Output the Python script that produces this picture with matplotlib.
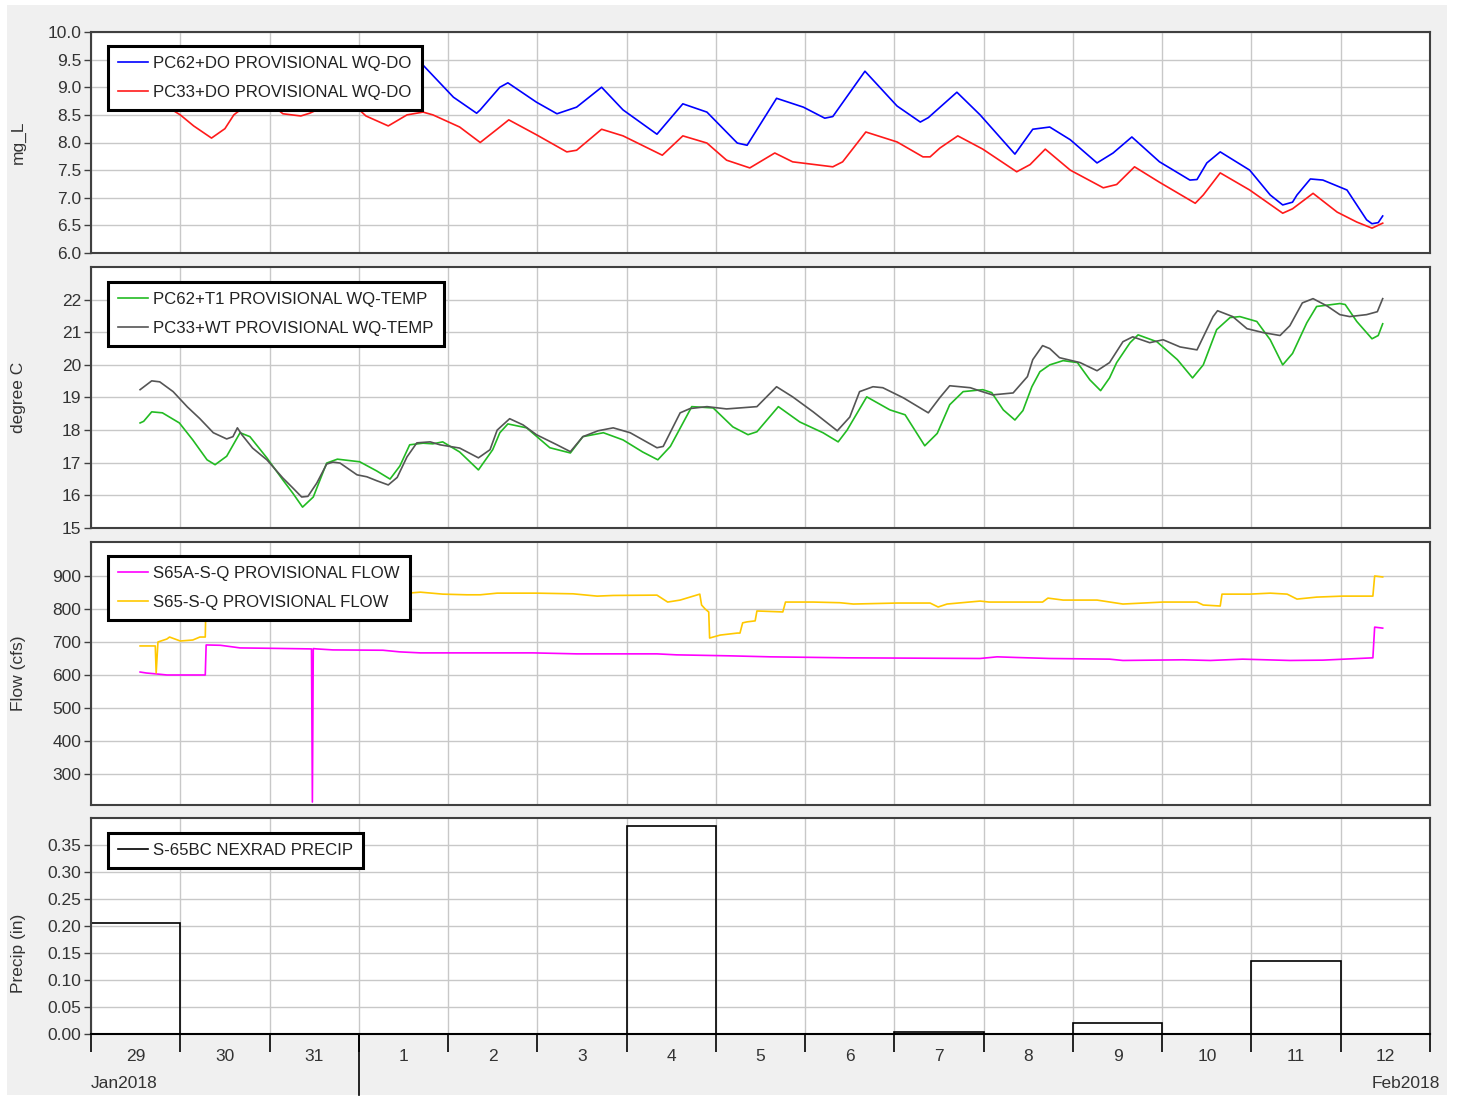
import matplotlib
matplotlib.use("Agg")
import matplotlib.pyplot as plt
import matplotlib.transforms as mtransforms
from matplotlib.patches import Rectangle
from matplotlib.lines import Line2D
import numpy as np

plt.rcParams['font.family'] = ['Liberation Sans', 'DejaVu Sans']

# time axis: days after 29 Jan 2018 00:00
day_labels = ['29', '30', '31', '1', '2', '3', '4', '5', '6', '7', '8', '9', '10', '11', '12']

# --- dissolved oxygen (mg_L)
do62_t = [0.53, 0.75, 1.0, 1.33, 1.55, 1.67, 1.85, 2.1, 2.38, 2.6, 2.75, 3.0, 3.33, 3.5, 3.62,
          3.72, 4.06, 4.32, 4.36, 4.58, 4.67, 4.99, 5.22, 5.44, 5.72, 5.96, 6.34, 6.63, 6.90,
          7.24, 7.35, 7.68, 7.98, 8.22, 8.31, 8.67, 9.03, 9.29, 9.38, 9.70, 9.96, 10.35, 10.55,
          10.74, 10.97, 11.27, 11.45, 11.66, 11.97, 12.31, 12.39, 12.50, 12.65, 12.98, 13.21,
          13.35, 13.46, 13.51, 13.66, 13.80, 14.07, 14.29, 14.35, 14.42, 14.47]
do62_v = [9.15, 9.3, 9.1, 8.95, 9.5, 9.75, 9.55, 9.2, 8.95, 9.25, 9.45, 9.3, 9.0, 9.3, 9.5,
          9.4, 8.82, 8.53, 8.59, 9.0, 9.08, 8.73, 8.52, 8.64, 9.0, 8.59, 8.15, 8.7, 8.55,
          7.99, 7.95, 8.8, 8.64, 8.44, 8.47, 9.29, 8.66, 8.37, 8.45, 8.91, 8.5, 7.79, 8.24,
          8.28, 8.05, 7.63, 7.81, 8.1, 7.65, 7.32, 7.33, 7.63, 7.83, 7.5, 7.05,
          6.87, 6.92, 7.05, 7.34, 7.32, 7.14, 6.6, 6.53, 6.55, 6.67]
do33_t = [0.53, 0.85, 1.0, 1.15, 1.35, 1.50, 1.6, 1.8, 2.05, 2.15, 2.35, 2.45, 2.75, 3.0, 3.08,
          3.33, 3.54, 3.72, 3.83, 4.13, 4.36, 4.58, 4.68, 4.99, 5.33, 5.44, 5.72, 5.96, 6.40,
          6.63, 6.90, 7.12, 7.38, 7.66, 7.86, 8.31, 8.42, 8.68, 9.03, 9.32, 9.40, 9.51, 9.71,
          9.99, 10.37, 10.52, 10.69, 10.97, 11.34, 11.49, 11.69, 11.97, 12.37, 12.46, 12.65,
          12.98, 13.35, 13.46, 13.69, 13.96, 14.18, 14.35, 14.47]
do33_v = [8.85, 8.65, 8.5, 8.3, 8.08, 8.25, 8.5, 8.75, 8.65, 8.52, 8.48, 8.53, 8.75, 8.6, 8.48,
          8.3, 8.5, 8.55, 8.5, 8.28, 8.0, 8.28, 8.41, 8.14, 7.83, 7.86, 8.24, 8.12, 7.77,
          8.12, 7.99, 7.68, 7.54, 7.81, 7.65, 7.56, 7.65, 8.19, 8.01, 7.74, 7.74, 7.9, 8.12,
          7.88, 7.47, 7.6, 7.88, 7.5, 7.18, 7.24, 7.56, 7.28, 6.9, 7.05, 7.45,
          7.14, 6.72, 6.8, 7.08, 6.74, 6.56, 6.45, 6.54]

# --- water temperature (degree C)
t62_t = [0.55, 0.59, 0.68, 0.80, 0.99, 1.14, 1.30, 1.39, 1.52, 1.67, 1.78, 1.97, 2.15, 2.26,
         2.37, 2.49, 2.64, 2.76, 3.01, 3.20, 3.35, 3.46, 3.57, 3.72, 3.83, 3.94, 4.13, 4.34,
         4.50, 4.58, 4.67, 4.88, 5.14, 5.37, 5.51, 5.74, 5.96, 6.18, 6.35, 6.49, 6.73, 6.97,
         7.19, 7.36, 7.46, 7.70, 7.94, 8.20, 8.37, 8.47, 8.69, 8.95, 9.12, 9.34, 9.48, 9.62,
         9.77, 9.99, 10.09, 10.22, 10.35, 10.44, 10.54, 10.63, 10.74, 10.89, 11.05, 11.19,
         11.31, 11.41, 11.49, 11.64, 11.73, 11.94, 12.17, 12.34, 12.46, 12.61, 12.76, 12.87,
         13.06, 13.21, 13.35, 13.46, 13.62, 13.73, 13.99, 14.05, 14.18, 14.35, 14.42, 14.47]
t62_v = [18.22, 18.27, 18.56, 18.53, 18.22, 17.7, 17.09, 16.94, 17.2, 17.92, 17.8, 17.15, 16.47, 16.07,
         15.64, 15.95, 16.99, 17.11, 17.03, 16.75, 16.5, 16.9, 17.55, 17.6, 17.58, 17.64, 17.33, 16.78,
         17.4, 17.92, 18.19, 18.07, 17.46, 17.3, 17.8, 17.92, 17.7, 17.33, 17.09, 17.5, 18.72, 18.68,
         18.1, 17.86, 17.95, 18.72, 18.25, 17.92, 17.64, 18.0, 19.02, 18.62, 18.47, 17.52, 17.9, 18.78,
         19.18, 19.24, 19.15, 18.62, 18.31, 18.6, 19.33, 19.79, 20.0, 20.13, 20.07, 19.54,
         19.21, 19.6, 20.07, 20.68, 20.92, 20.71, 20.16, 19.6, 20.0, 21.08, 21.45, 21.48,
         21.33, 20.77, 20.0, 20.35, 21.29, 21.79, 21.88, 21.85, 21.33, 20.8, 20.9, 21.26]
t33_t = [0.55, 0.68, 0.77, 0.92, 1.08, 1.22, 1.37, 1.52, 1.59, 1.64, 1.69, 1.81, 1.97, 2.15,
         2.26, 2.36, 2.43, 2.53, 2.64, 2.71, 2.79, 2.98, 3.09, 3.20, 3.33, 3.43, 3.54, 3.65,
         3.80, 3.91, 4.13, 4.34, 4.47, 4.55, 4.69, 4.84, 4.99, 5.22, 5.37, 5.51, 5.68, 5.85,
         6.04, 6.34, 6.41, 6.60, 6.71, 6.90, 7.12, 7.46, 7.68, 7.86, 8.09, 8.36, 8.50, 8.61,
         8.76, 8.87, 9.10, 9.38, 9.51, 9.62, 9.85, 9.96, 10.10, 10.33, 10.49, 10.55, 10.66,
         10.74, 10.85, 11.08, 11.27, 11.41, 11.56, 11.67, 11.86, 12.01, 12.20, 12.39, 12.57,
         12.62, 12.79, 12.95, 13.13, 13.32, 13.43, 13.57, 13.69, 13.85, 13.99, 14.10, 14.29,
         14.41, 14.47]
t33_v = [19.24, 19.51, 19.48, 19.18, 18.71, 18.35, 17.92, 17.73, 17.8, 18.07, 17.86, 17.45, 17.09, 16.53,
         16.23, 15.95, 15.97, 16.38, 16.96, 17.02, 16.99, 16.63, 16.57, 16.45, 16.32, 16.55, 17.18, 17.61,
         17.64, 17.55, 17.45, 17.15, 17.4, 18.0, 18.35, 18.16, 17.86, 17.55, 17.34, 17.8, 17.98, 18.07,
         17.92, 17.46, 17.5, 18.53, 18.66, 18.72, 18.65, 18.72, 19.33, 19.02, 18.56, 17.98, 18.4, 19.18,
         19.33, 19.3, 18.99, 18.53, 19.0, 19.36, 19.3, 19.2, 19.08, 19.14, 19.64, 20.16, 20.59,
         20.5, 20.22, 20.07, 19.82, 20.07, 20.71, 20.86, 20.68, 20.77, 20.55, 20.46, 21.48,
         21.66, 21.48, 21.11, 20.99, 20.9, 21.2, 21.9, 22.03, 21.8, 21.54, 21.48, 21.54,
         21.63, 22.03]

# --- flow (cfs)
q65a_t = [0.55, 0.62, 0.74, 0.85, 1.28, 1.29, 1.45, 1.59, 1.67, 1.97, 2.47, 2.48, 2.49, 2.53,
          2.71, 3.27, 3.46, 3.69, 4.58, 4.95, 5.44, 6.34, 6.56, 7.16, 7.61, 8.47, 9.96, 10.15,
          10.37, 10.74, 11.41, 11.56, 12.23, 12.54, 12.90, 13.43, 13.80, 14.36, 14.38, 14.47]
q65a_v = [609, 606, 603, 600, 600, 691, 690, 685, 682, 681, 679, 215, 680, 679,
          676, 675, 670, 667, 667, 667, 664, 664, 661, 658, 655, 652, 650, 655,
          653, 650, 648, 644, 646, 644, 648, 644, 645, 652, 745, 742]
q65_t = [0.55, 0.72, 0.73, 0.75, 0.85, 0.88, 1.00, 1.14, 1.22, 1.28, 1.29, 2.0, 3.0, 3.55,
         3.69, 3.94, 4.21, 4.36, 4.55, 4.73, 4.99, 5.40, 5.67, 5.85, 6.34, 6.46, 6.60, 6.82,
         6.84, 6.88, 6.92, 6.93, 7.05, 7.24, 7.27, 7.30, 7.35, 7.44, 7.46, 7.75, 7.78, 8.09,
         8.39, 8.54, 9.03, 9.40, 9.49, 9.59, 9.96, 10.06, 10.66, 10.72, 10.89, 11.27, 11.56,
         12.01, 12.39, 12.46, 12.65, 12.67, 12.98, 13.21, 13.40, 13.51, 13.73, 14.02, 14.36,
         14.38, 14.47]
q65_v = [688, 688, 606, 700, 709, 715, 703, 706, 715, 715, 850, 848, 846, 848,
         851, 845, 843, 843, 848, 848, 848, 846, 839, 841, 842, 821, 827, 845,
         812, 800, 791, 712, 721, 727, 727, 758, 761, 764, 794, 791, 821, 821,
         819, 815, 818, 818, 806, 815, 824, 821, 821, 833, 827, 827, 815,
         821, 821, 812, 809, 845, 845, 848, 845, 830, 836, 839, 839,
         900, 897]

# --- daily precipitation (in), one value per day
precip = [0.205, 0, 0, 0, 0, 0, 0.385, 0, 0, 0.003, 0, 0.02, 0, 0.135, 0]

W, H = 1458, 1097
fig = plt.figure(figsize=(W / 100, H / 100), dpi=100, facecolor='white')
fig.patches.append(Rectangle((7 / W, 1 - 1095 / H), 1440 / W, 1090 / H,
                             transform=fig.transFigure, facecolor='#f0f0f0',
                             edgecolor='none', zorder=-10))

def panel(top, bottom):
    return fig.add_axes([91 / W, 1 - bottom / H, 1339 / W, (bottom - top) / H])

ax1 = panel(32, 253)
ax2 = panel(267, 528)
ax3 = panel(542, 805)
ax4 = panel(818, 1034)

tc = '#333333'
fs = 12.5
lfs = 12.1
for ax in (ax1, ax2, ax3, ax4):
    ax.set_facecolor('white')
    ax.set_xlim(0, 15)
    ax.set_xticks(np.arange(0, 16))
    ax.grid(True, color='#c8c8c8', lw=1.0)
    ax.set_axisbelow(True)
    for s in ax.spines.values():
        s.set_color('#404040')
        s.set_linewidth(1.5)
    ax.tick_params(axis='y', direction='out', length=5, width=1, color='#404040',
                   labelsize=fs, labelcolor=tc, pad=2)
    ax.tick_params(axis='x', length=0, labelbottom=False)

def legend(ax, top_px, height_px, handles=None, labels=None):
    kw = dict(loc='upper left', bbox_to_anchor=(17 / 1339, 1 - top_px / height_px),
              borderaxespad=0, fontsize=lfs, frameon=True, fancybox=False,
              framealpha=1, handlelength=1.8, handletextpad=0.3,
              borderpad=0.6, labelspacing=0.82)
    if handles is None:
        leg = ax.legend(**kw)
    else:
        leg = ax.legend(handles, labels, **kw)
    leg.get_frame().set_edgecolor('black')
    leg.get_frame().set_linewidth(2.2)
    for t in leg.get_texts():
        t.set_color('#222222')
    return leg

# panel 1: DO
ax1.plot(do62_t, do62_v, color='#0000ff', lw=1.2, label='PC62+DO PROVISIONAL WQ-DO')
ax1.plot(do33_t, do33_v, color='#ff1a1a', lw=1.2, label='PC33+DO PROVISIONAL WQ-DO')
ax1.set_ylim(6.0, 10.0)
ax1.set_yticks(np.arange(6.0, 10.01, 0.5))
ax1.set_yticklabels([f'{v:.1f}' for v in np.arange(6.0, 10.01, 0.5)])
ax1.set_ylabel('mg_L', fontsize=fs, color=tc)
legend(ax1, 14, 221)

# panel 2: temperature
ax2.plot(t62_t, t62_v, color='#22bb22', lw=1.2, label='PC62+T1 PROVISIONAL WQ-TEMP')
ax2.plot(t33_t, t33_v, color='#555555', lw=1.2, label='PC33+WT PROVISIONAL WQ-TEMP')
ax2.set_ylim(15, 23)
ax2.set_yticks(np.arange(15, 23))
ax2.set_ylabel('degree C', fontsize=fs, color=tc)
legend(ax2, 15, 261)

# panel 3: flow
ax3.plot(q65a_t, q65a_v, color='#ff00ff', lw=1.2, label='S65A-S-Q PROVISIONAL FLOW')
ax3.plot(q65_t, q65_v, color='#ffc800', lw=1.2, label='S65-S-Q PROVISIONAL FLOW')
ax3.set_ylim(206, 1003)
ax3.set_yticks(np.arange(300, 901, 100))
ax3.set_ylabel('Flow (cfs)', fontsize=fs, color=tc)
legend(ax3, 14, 263)

# panel 4: precip
days = np.arange(len(precip))
ax4.bar(days, precip, width=1.0, align='edge', facecolor='none', edgecolor='black', lw=1.2)
ax4.set_ylim(0, 0.40)
ax4.set_yticks(np.arange(0, 0.351, 0.05))
ax4.set_yticklabels([f'{v:.2f}' for v in np.arange(0, 0.351, 0.05)])
ax4.set_ylabel('Precip (in)', fontsize=fs, color=tc)
legend(ax4, 15, 216, [Line2D([], [], color='black', lw=1.2)], ['S-65BC NEXRAD PRECIP'])

ax4.spines['bottom'].set_color('black')
ax4.tick_params(axis='x', which='major', direction='out', length=13, width=1.2,
                color='black', labelbottom=False)
ax4.set_xticks(days + 0.5, minor=True)
ax4.set_xticklabels(day_labels, minor=True)
ax4.tick_params(axis='x', which='minor', length=0, labelsize=fs, labelcolor=tc,
                pad=11, labelbottom=True)

for ax in (ax1, ax2, ax3):
    ax.yaxis.set_label_coords(-0.0485, 0.5)
ax4.yaxis.set_label_coords(-0.0485, 0.375)

trans = mtransforms.blended_transform_factory(ax4.transData, ax4.transAxes)
ax4.plot([3, 3], [0, -(1095 - 1034) / 216], transform=trans, color='black', lw=1.2,
         clip_on=False)
ax4.text(0, -(1083 - 1034) / 216, 'Jan2018', transform=trans, ha='left', va='center',
         fontsize=fs, color=tc)
ax4.text((1440 - 91) / 1339, -(1083 - 1034) / 216, 'Feb2018', transform=ax4.transAxes,
         ha='right', va='center', fontsize=fs, color=tc)

fig.savefig('out.png', dpi=100, facecolor=fig.get_facecolor())
